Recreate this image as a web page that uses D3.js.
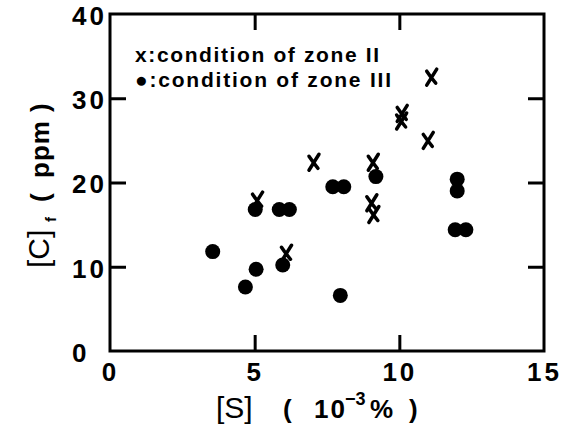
<!DOCTYPE html>
<html>
<head>
<meta charset="utf-8">
<script src="https://cdn.jsdelivr.net/npm/d3@7"></script>
<style>
  html, body { margin: 0; padding: 0; background: #fff; }
  svg text { font-family: "Liberation Sans", Arial, sans-serif; font-weight: bold; fill: #000; }
</style>
</head>
<body>
<svg id="chart" width="561" height="430"></svg>
<script>
// ---- data ----
const xTicks = [0, 5, 10, 15];
const yTicks = [0, 10, 20, 30, 40];
const zone2S = [5.1, 6.1, 7.05, 9.1, 9.05, 9.12, 10.1, 10.08, 11.0, 11.12];
const zone2C = [17.9, 11.6, 22.4, 22.4, 17.6, 16.2, 28.2, 27.3, 25.0, 32.5];
const zone3S = [3.55, 4.68, 5.05, 5.02, 5.85, 6.2, 5.97, 7.7, 8.08, 7.96, 9.19, 12.0, 12.0, 11.93, 12.3];
const zone3C = [11.8, 7.6, 9.7, 16.8, 16.8, 16.8, 10.2, 19.5, 19.5, 6.6, 20.7, 20.4, 19.0, 14.4, 14.4];
const legendLabels = ["x:condition of zone II", "\u25CF:condition of zone III"];

// ---- layout ----
const svg = d3.select("#chart");
const L = 110, R = 544, T = 14, B = 351;
const x = d3.scaleLinear().domain([0, 15]).range([L, R]);
const y = d3.scaleLinear().domain([0, 40]).range([B, T]);
const tickLen = 16;
const fontSize = 25;

// frame
svg.append("rect")
  .attr("x", L).attr("y", T).attr("width", R - L).attr("height", B - T)
  .attr("fill", "none").attr("stroke", "#000").attr("stroke-width", 3);

const inner = t => t > 0 && t < 15;
const innerY = t => t > 0 && t < 40;

const gB = svg.append("g").attr("transform", `translate(0,${B})`)
  .call(d3.axisBottom(x).tickValues(xTicks).tickSize(-tickLen).tickPadding(8).tickFormat(d3.format("d")));
const gT = svg.append("g").attr("transform", `translate(0,${T})`)
  .call(d3.axisTop(x).tickValues(xTicks.filter(inner)).tickSize(-tickLen).tickFormat(""));
const gL = svg.append("g").attr("transform", `translate(${L},0)`)
  .call(d3.axisLeft(y).tickValues(yTicks).tickSize(-tickLen).tickPadding(6).tickFormat(d3.format("d")));
const gR = svg.append("g").attr("transform", `translate(${R},0)`)
  .call(d3.axisRight(y).tickValues(yTicks.filter(innerY)).tickSize(-tickLen).tickFormat(""));

[gB, gT, gL, gR].forEach(g => {
  g.select(".domain").remove();
  g.selectAll(".tick line").attr("stroke", "#000").attr("stroke-width", 3);
  g.selectAll(".tick text").attr("font-size", 26).attr("letter-spacing", 3)
    .style("font-family", '"Liberation Sans", Arial, sans-serif').style("font-weight", "bold");
});
gB.selectAll(".tick").filter(d => !inner(d)).select("line").remove();
gL.selectAll(".tick").filter(d => !innerY(d)).select("line").remove();
gB.selectAll(".tick text").attr("dy", "0.78em").attr("y", 10);
gL.selectAll(".tick text").attr("text-anchor", "start").attr("x", 72 - L).attr("dy", "0.4em");

// legend
svg.selectAll("text.legend").data(legendLabels).join("text")
  .attr("class", "legend")
  .attr("x", 135).attr("y", (d, i) => 62 + i * 25)
  .attr("font-size", 21)
  .attr("textLength", (d, i) => i === 0 ? 244 : 256)
  .attr("lengthAdjust", "spacing")
  .text(d => d);

// zone III: filled circles
svg.selectAll("circle.z3").data(zone3S.map((s, i) => [s, zone3C[i]])).join("circle")
  .attr("class", "z3")
  .attr("cx", d => x(d[0])).attr("cy", d => y(d[1])).attr("r", 7.5)
  .attr("fill", "#000");

// zone II: hand-drawn style crosses
const crossPath = "M-5,8 L5,-8 M-5,-6 Q-1,0 4,6";
svg.selectAll("path.z2").data(zone2S.map((s, i) => [s, zone2C[i]])).join("path")
  .attr("class", "z2")
  .attr("transform", d => `translate(${x(d[0])},${y(d[1])})`)
  .attr("d", crossPath)
  .attr("fill", "none").attr("stroke", "#000").attr("stroke-width", 3.5)
  .attr("stroke-linecap", "round");

// x axis title
const xt = svg.append("text").attr("y", 418).attr("font-size", 26);
xt.append("tspan").attr("x", 216).attr("font-size", 30).style("font-weight", "normal").text("[S]");
xt.append("tspan").attr("x", 283).text("(");
xt.append("tspan").attr("x", 314).attr("letter-spacing", 2).text("10");
xt.append("tspan").attr("x", 345).attr("dy", -13).attr("font-size", 18).text("\u22123");
xt.append("tspan").attr("x", 370).attr("dy", 13).text("%");
xt.append("tspan").attr("x", 409).text(")");

// y axis title (rotated; tspan x = distance up from y=268)
const yt = svg.append("text")
  .attr("transform", "translate(49,268) rotate(-90)")
  .attr("font-size", 26);
yt.append("tspan").attr("x", 0).attr("font-size", 30).style("font-weight", "normal").text("[C]");
yt.append("tspan").attr("x", 46).attr("dy", 7).attr("font-size", 15).text("f");
yt.append("tspan").attr("x", 66).attr("dy", -7).text("(");
yt.append("tspan").attr("x", 90).attr("letter-spacing", 1).text("ppm");
yt.append("tspan").attr("x", 156).text(")");
</script>
</body>
</html>
